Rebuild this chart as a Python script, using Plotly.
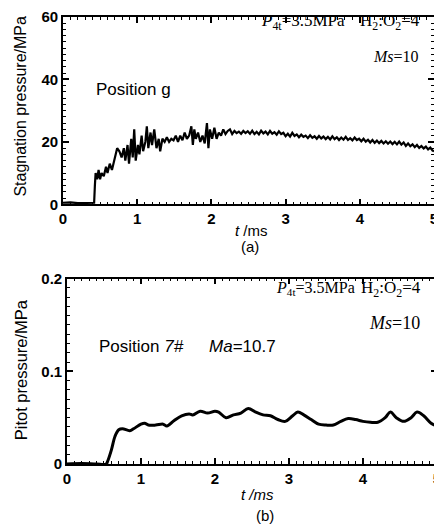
import plotly.graph_objects as go

# ---- data: panel (a) stagnation pressure ----
t_a = [0, 0.1, 0.2, 0.3, 0.42, 0.43, 0.44, 0.46, 0.48, 0.50, 0.52, 0.55, 0.58, 0.60, 0.63, 0.66,
       0.70, 0.73, 0.76, 0.79, 0.82, 0.84, 0.87, 0.89, 0.92, 0.94, 0.96, 0.98, 1.01, 1.03, 1.06,
       1.08, 1.11, 1.13, 1.15, 1.18, 1.20, 1.23, 1.26, 1.29, 1.31, 1.34, 1.37, 1.40, 1.43, 1.46,
       1.49, 1.52, 1.55, 1.58, 1.61, 1.64, 1.67, 1.70, 1.73, 1.75, 1.77, 1.79, 1.82, 1.85, 1.88,
       1.91, 1.94, 1.96, 1.98, 2.01, 2.04, 2.07, 2.10, 2.13, 2.16, 2.19, 2.22, 2.25, 2.28, 2.31,
       2.34, 2.37, 2.40, 2.43, 2.46, 2.49, 2.52, 2.55, 2.58, 2.61, 2.64, 2.67, 2.70, 2.73, 2.76,
       2.79, 2.82, 2.85, 2.88, 2.91, 2.94, 2.97, 3.00, 3.03, 3.06, 3.09, 3.12, 3.15, 3.18, 3.21,
       3.24, 3.27, 3.30, 3.33, 3.36, 3.39, 3.42, 3.45, 3.48, 3.51, 3.54, 3.57, 3.60, 3.63, 3.66,
       3.69, 3.72, 3.75, 3.78, 3.81, 3.84, 3.87, 3.90, 3.93, 3.96, 3.99, 4.02, 4.05, 4.08, 4.11,
       4.14, 4.17, 4.20, 4.23, 4.26, 4.29, 4.32, 4.35, 4.38, 4.41, 4.44, 4.47, 4.50, 4.53, 4.56,
       4.59, 4.62, 4.65, 4.68, 4.71, 4.74, 4.77, 4.80, 4.83, 4.86, 4.89, 4.92, 4.95, 4.98, 5.0]
p_a = [0.5, 0.6, 0.4, 0.5, 0.5, 6, 10, 8, 11, 8, 10, 9, 12, 10, 13, 11,
       15, 18, 17, 15, 18, 14, 19, 13, 21, 15, 24, 14, 19, 16, 22,
       17, 20, 25, 18, 23, 19, 24, 18, 21, 17, 21, 20, 21.5, 20, 21,
       20.5, 22, 20, 22, 20.5, 23, 21, 22, 25, 19, 24, 21, 23, 20, 22,
       19.5, 26, 18, 24, 21, 24.5, 21, 23, 22, 24, 22.5, 23.5, 24, 22.5, 23.5,
       22.8, 23.3, 22.6, 23.5, 22.8, 23.4, 22.6, 23.6, 22.5, 23.2, 22.4, 23.6, 22.7, 23.3, 22.4,
       23.5, 22.6, 23.1, 22.3, 23.4, 22.5, 22.9, 21.8, 22.6, 21.7, 22.9, 21.9, 22.4, 21.5, 22.3,
       21.6, 22.0, 21.2, 22.1, 21.3, 21.8, 21.0, 21.9, 21.1, 21.7, 20.9, 21.6, 20.8, 21.8, 20.9,
       21.5, 20.6, 21.4, 20.7, 21.6, 20.6, 21.2, 20.5, 21.4, 20.6, 21.0, 20.2, 21.0, 20.1, 20.7,
       19.8, 20.6, 19.7, 20.4, 19.6, 20.3, 19.5, 20.2, 19.4, 20.1, 19.3, 20.0, 19.2, 20.1, 19.1,
       19.8, 18.7, 19.5, 18.6, 19.2, 18.3, 19.0, 18.1, 18.7, 17.9, 18.5, 17.6, 18.2, 17.2, 17.0]

# ---- data: panel (b) pitot pressure ----
t_b = [0, 0.2, 0.4, 0.53, 0.55, 0.60, 0.65, 0.70, 0.75, 0.85, 0.90, 1.00, 1.05, 1.10, 1.20, 1.30,
       1.35, 1.45, 1.55, 1.65, 1.70, 1.80, 1.90, 2.00, 2.05, 2.15, 2.25, 2.35, 2.45, 2.55, 2.65,
       2.75, 2.85, 2.95, 3.05, 3.12, 3.20, 3.30, 3.40, 3.50, 3.60, 3.70, 3.80, 3.90, 4.00, 4.10,
       4.20, 4.30, 4.37, 4.45, 4.55, 4.65, 4.73, 4.82, 4.92, 5.0]
p_b = [0, 0.0005, 0, 0, 0.003, 0.015, 0.030, 0.037, 0.038, 0.036, 0.038, 0.043, 0.044, 0.042, 0.042, 0.043,
       0.041, 0.047, 0.052, 0.054, 0.053, 0.057, 0.055, 0.057, 0.056, 0.050, 0.053, 0.055, 0.060, 0.056, 0.053,
       0.052, 0.048, 0.046, 0.052, 0.056, 0.053, 0.048, 0.043, 0.042, 0.042, 0.046, 0.049, 0.048, 0.046, 0.045,
       0.045, 0.050, 0.056, 0.050, 0.046, 0.050, 0.056, 0.052, 0.044, 0.041]

x_ticks = [0, 1, 2, 3, 4, 5]
ya_ticks = [0, 20, 40, 60]
yb_ticks = [0, 0.1, 0.2]
yb_labels = ["0", "0.1", "0.2"]

SANS = "Liberation Sans Narrow, Liberation Sans, Arial"
SERIF = "Liberation Serif, Times New Roman, serif"

# page body has an 8px margin; figure coordinates = page coordinates - OFF
OFF = 8
W, H = 442 - OFF, 532 - 2 * OFF
ml, mr, mt, mb = 52, 0, 5, 60
pw = W - ml - mr
ph = H - mt - mb


def fx(page_x):
    return (page_x - OFF - ml) / pw


def fy(page_y):
    return (H - mb - (page_y - OFF)) / ph


fig = go.Figure()
fig.add_trace(go.Scatter(x=t_a, y=p_a, mode="lines", line=dict(color="black", width=2.2),
                         xaxis="x", yaxis="y", showlegend=False))
fig.add_trace(go.Scatter(x=t_b, y=p_b, mode="lines", line=dict(color="black", width=3, shape="spline"),
                         xaxis="x2", yaxis="y2", showlegend=False))

axis_common = dict(showline=True, linecolor="black", linewidth=1.5, mirror="allticks",
                   ticks="inside", ticklen=6, tickwidth=1.5, tickcolor="black",
                   showgrid=False, zeroline=False,
                   tickfont=dict(family=SANS, size=15, color="black"))
minor_x = dict(ticks="inside", dtick=0.1, ticklen=3, tickwidth=1, tickcolor="black")


def bold(vals):
    return ["<b>%s</b>" % v for v in vals]


fig.update_layout(
    width=W, height=H,
    margin=dict(l=ml, r=mr, t=mt, b=mb),
    paper_bgcolor="white", plot_bgcolor="white",
    xaxis=dict(domain=[fx(63), fx(438)], range=[0, 5], anchor="y",
               tickvals=x_ticks, ticktext=bold(x_ticks), minor=minor_x, **axis_common),
    yaxis=dict(domain=[fy(202), fy(13)], range=[0, 60], anchor="x",
               tickvals=ya_ticks, ticktext=bold(ya_ticks),
               minor=dict(ticks="inside", dtick=2, ticklen=3, tickwidth=1, tickcolor="black"),
               **axis_common),
    xaxis2=dict(domain=[fx(67), fx(441)], range=[0, 5], anchor="y2",
                tickvals=x_ticks, ticktext=bold(x_ticks), minor=minor_x, **axis_common),
    yaxis2=dict(domain=[fy(464), fy(277)], range=[0, 0.2], anchor="x2",
                tickvals=yb_ticks, ticktext=bold(yb_labels),
                minor=dict(ticks="inside", dtick=0.01, ticklen=3, tickwidth=1, tickcolor="black"),
                **axis_common),
)


def ann(text, x, y, family, size, xanchor="left", angle=0):
    fig.add_annotation(text=text, x=fx(x), y=fy(y), xref="paper", yref="paper",
                       xanchor=xanchor, yanchor="middle", showarrow=False, textangle=angle,
                       font=dict(family=family, size=size, color="black"))


# axis titles
ann("Stagnation pressure/MPa", 20, 103, SANS, 16, "center", -90)
ann("Pitot pressure/MPa", 20, 369, SANS, 16.5, "center", -90)

# panel (a) annotations
ann("<i>P</i><sub>4t</sub>=3.5MPa", 261, 18, SERIF, 17)
ann("H<sub>2</sub>:O<sub>2</sub>=4", 361, 18, SERIF, 17)
ann("<i>Ms</i>=10", 374, 53, SERIF, 16)
ann("Position g", 94, 86, SANS, 17)
ann("<i>t</i> /ms", 254, 228, SANS, 15, "center")
ann("(a)", 252, 245, SANS, 15, "center")

# panel (b) annotations
ann("<i>P</i><sub>4t</sub>=3.5MPa", 276, 287, SERIF, 16)
ann("H<sub>2</sub>:O<sub>2</sub>=4", 362, 287, SERIF, 17)
ann("<i>Ms</i>=10", 370, 322, SERIF, 18)
ann("Position <i>7#</i>", 97, 345, SANS, 17)
ann("<i>Ma</i>=10.7", 209, 345, SANS, 17)
ann("<i>t /ms</i>", 260, 495, SANS, 15, "center")
ann("(b)", 267, 516, SANS, 15, "center")

fig.write_html("out.html")
